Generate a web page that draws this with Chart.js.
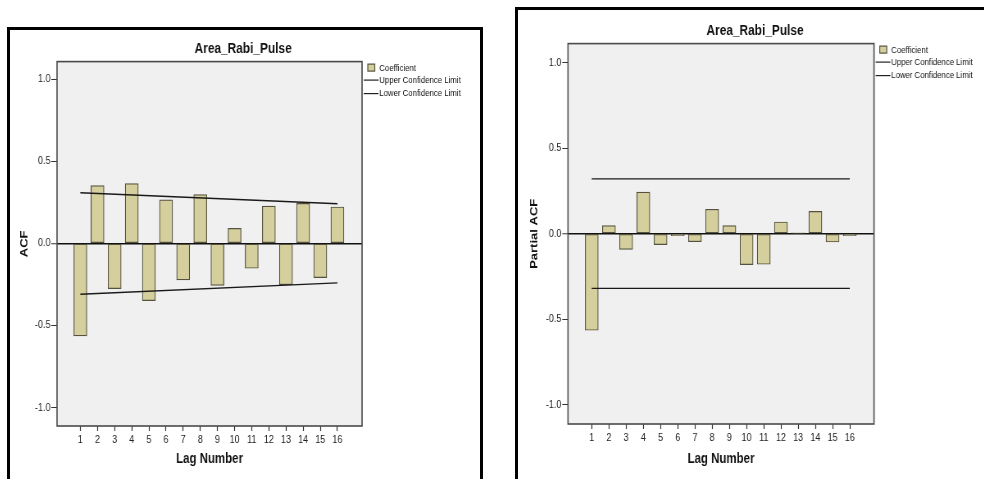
<!DOCTYPE html>
<html>
<head>
<meta charset="utf-8">
<script src="https://cdn.jsdelivr.net/npm/chart.js@4.4.1/dist/chart.umd.min.js"></script>
<style>
  html, body { margin: 0; padding: 0; background: #fff; overflow: hidden; }
  body { width: 984px; height: 479px; position: relative; }
  .frame { position: absolute; border: 3px solid #000; box-sizing: border-box; }
  /* narrow the whole drawing so the labels read like a condensed face */
  canvas { position: absolute; top: 0; transform: scaleX(0.82); transform-origin: 0 0; }
</style>
</head>
<body>
<div class="frame" style="left:7px; top:27px; width:476px; height:470px;"></div>
<div class="frame" style="left:515px; top:7px; width:490px; height:490px;"></div>
<canvas id="acfChart" width="576" height="479" style="left:7px;"></canvas>
<canvas id="pacfChart" width="583" height="479" style="left:516px;"></canvas>
<script>
// lags and coefficients
const lags = [1, 2, 3, 4, 5, 6, 7, 8, 9, 10, 11, 12, 13, 14, 15, 16];
const acf = [-0.564, 0.351, -0.276, 0.363, -0.349, 0.264, -0.223, 0.296,
  -0.256, 0.091, -0.152, 0.227, -0.252, 0.243, -0.209, 0.221];
const pacf = [-0.565, 0.047, -0.092, 0.243, -0.064, -0.012, -0.047, 0.142,
  0.047, -0.181, -0.179, 0.068, 0.003, 0.130, -0.049, -0.012];

// confidence limits (start and end lag)
const limitLags = [1, 16];
const acfUpper = [0.308, 0.241];
const acfLower = [-0.310, -0.241];
const pacfUpper = [0.320, 0.320];
const pacfLower = [-0.320, -0.320];

const yTicks = [-1.0, -0.5, 0.0, 0.5, 1.0];
const legendLabels = ["Coefficient", "Upper Confidence Limit", "Lower Confidence Limit"];

const FONT = "'Liberation Sans', Arial, sans-serif";
const BAR_FILL = "#d4cf9c";
const BAR_EDGE = "#55523f";

// plot background, frame and legend
const plotFrame = {
  id: "plotFrame",
  beforeDraw(chart) {
    const { ctx, chartArea: a } = chart;
    ctx.save();
    ctx.fillStyle = "#f0f0f0";
    ctx.fillRect(a.left, a.top, a.right - a.left, a.bottom - a.top);
    ctx.restore();
  },
  afterDraw(chart) {
    const { ctx, chartArea: a } = chart;
    ctx.save();
    ctx.strokeStyle = "#4a4a4a";
    ctx.lineWidth = 1.6;
    ctx.strokeRect(a.left, a.top, a.right - a.left, a.bottom - a.top);

    // legend to the right of the plot
    const x = a.right;
    const y = a.top;
    ctx.fillStyle = BAR_FILL;
    ctx.strokeStyle = BAR_EDGE;
    ctx.lineWidth = 1.2;
    ctx.fillRect(x + 7, y + 2.5, 8.5, 7);
    ctx.strokeRect(x + 7, y + 2.5, 8.5, 7);
    ctx.strokeStyle = "#222";
    ctx.lineWidth = 1.2;
    [18.5, 32].forEach((dy) => {
      ctx.beginPath();
      ctx.moveTo(x + 2, y + dy);
      ctx.lineTo(x + 20, y + dy);
      ctx.stroke();
    });
    ctx.fillStyle = "#111";
    ctx.font = "9.5px " + FONT;
    ctx.textBaseline = "middle";
    ctx.fillText(legendLabels[0], x + 21, y + 6.5);
    ctx.fillText(legendLabels[1], x + 21, y + 18.5);
    ctx.fillText(legendLabels[2], x + 21, y + 32);
    ctx.restore();
  },
};

function makeChart(id, values, upper, lower, opts) {
  const ctx = document.getElementById(id).getContext("2d");
  return new Chart(ctx, {
    data: {
      datasets: [
        {
          type: "bar",
          label: legendLabels[0],
          data: lags.map((l, i) => ({ x: l, y: values[i] })),
          backgroundColor: BAR_FILL,
          borderColor: BAR_EDGE,
          borderWidth: 1.2,
          borderSkipped: false,
          barThickness: 16,
          order: 2,
        },
        {
          type: "line",
          label: legendLabels[1],
          data: limitLags.map((l, i) => ({ x: l, y: upper[i] })),
          borderColor: "#1a1a1a",
          borderWidth: 1.4,
          pointRadius: 0,
          fill: false,
          order: 1,
        },
        {
          type: "line",
          label: legendLabels[2],
          data: limitLags.map((l, i) => ({ x: l, y: lower[i] })),
          borderColor: "#1a1a1a",
          borderWidth: 1.4,
          pointRadius: 0,
          fill: false,
          order: 1,
        },
      ],
    },
    options: {
      responsive: false,
      animation: false,
      layout: { padding: 0 },
      plugins: {
        legend: { display: false },
        tooltip: { enabled: false },
        title: {
          display: true,
          text: "Area_Rabi_Pulse",
          color: "#111",
          font: { family: FONT, size: 14.5, weight: "bold" },
          padding: { top: opts.titleTop, bottom: 3.6 },
        },
      },
      scales: {
        x: {
          type: "linear",
          offset: false,
          min: opts.xMin,
          max: opts.xMax,
          afterBuildTicks: (scale) => {
            scale.ticks = lags.map((v) => ({ value: v }));
          },
          afterFit: (scale) => {
            scale.height = opts.xHeight;
          },
          border: { display: false },
          grid: {
            offset: false,
            drawOnChartArea: false,
            tickLength: 5,
            tickColor: "#333",
            tickWidth: 1.2,
          },
          ticks: {
            color: "#222",
            font: { family: FONT, size: 11 },
            padding: 2,
            maxRotation: 0,
            autoSkip: false,
            callback: (v) => String(v),
          },
          title: {
            display: true,
            text: "Lag Number",
            color: "#111",
            font: { family: FONT, size: 14, weight: "bold" },
            padding: { top: 0, bottom: 11 },
          },
        },
        y: {
          type: "linear",
          min: opts.yMin,
          max: opts.yMax,
          afterBuildTicks: (scale) => {
            scale.ticks = yTicks.map((v) => ({ value: v }));
          },
          afterFit: (scale) => {
            scale.width = opts.yWidth;
          },
          border: { display: false },
          grid: {
            drawOnChartArea: true,
            color: (c) => (c.tick && c.tick.value === 0 ? "#111" : "rgba(0,0,0,0)"),
            lineWidth: (c) => (c.tick && c.tick.value === 0 ? 1.5 : 1),
            tickColor: "#333",
            tickWidth: 1,
            tickLength: 7,
          },
          ticks: {
            color: "#222",
            font: { family: FONT, size: 11 },
            padding: 1,
            callback: (v) => Number(v).toFixed(1),
          },
          title: {
            display: true,
            text: opts.yTitle,
            color: "#111",
            font: { family: FONT, size: 13, weight: "bold" },
            padding: { top: opts.yTitlePad, bottom: 0 },
          },
        },
        // empty box that keeps room for the legend on the right
        side: {
          type: "linear",
          position: "right",
          afterFit: (scale) => {
            scale.width = opts.sideWidth;
          },
          border: { display: false },
          grid: { display: false },
          ticks: { display: false },
        },
      },
    },
    plugins: [plotFrame],
  });
}

makeChart("acfChart", acf, acfUpper, acfLower, {
  sideWidth: 143,
  titleTop: 40.6,
  xMin: -0.36,
  xMax: 17.44,
  yMin: -1.112,
  yMax: 1.106,
  xHeight: 53,
  yWidth: 61,
  yTitle: "ACF",
  yTitlePad: 14,
});

makeChart("pacfChart", pacf, pacfUpper, pacfLower, {
  sideWidth: 146.4,
  titleTop: 22.6,
  xMin: -0.378,
  xMax: 17.41,
  yMin: -1.113,
  yMax: 1.111,
  xHeight: 55,
  yWidth: 63.4,
  yTitle: "Partial ACF",
  yTitlePad: 15,
});
</script>
</body>
</html>
